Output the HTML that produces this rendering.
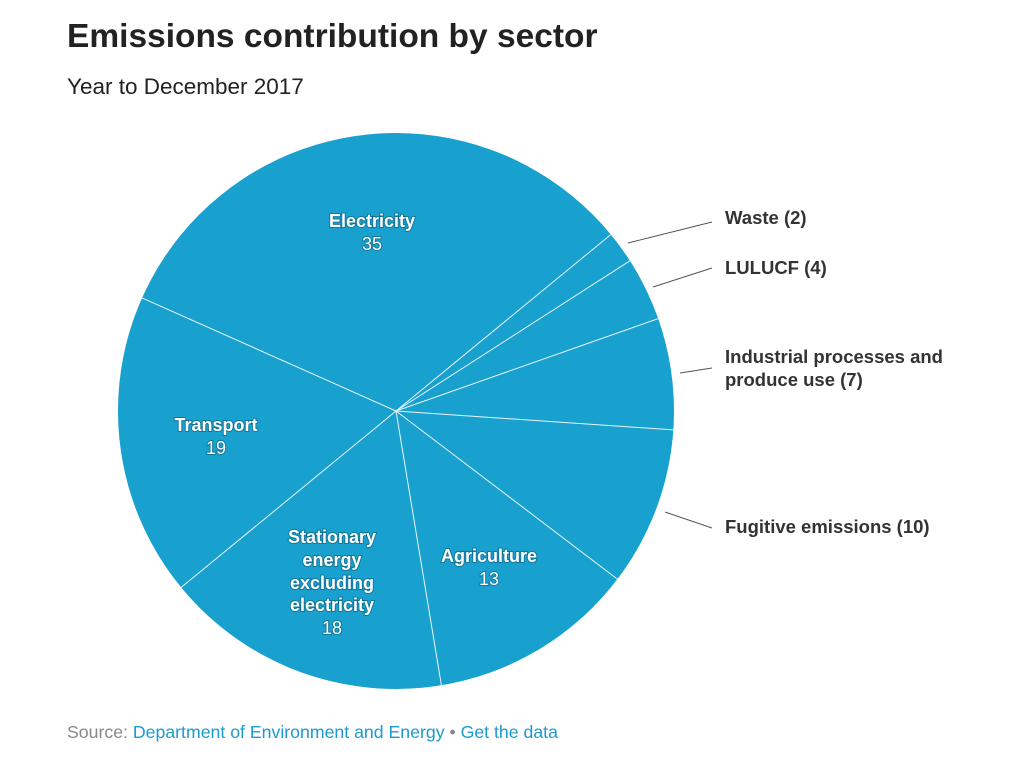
<!DOCTYPE html>
<html><head><meta charset="utf-8"><style>
html,body{margin:0;padding:0;background:#fff;}
body{width:1024px;height:760px;overflow:hidden;font-family:"Liberation Sans",sans-serif;}
</style></head><body>
<svg width="1024" height="760" viewBox="0 0 1024 760" xmlns="http://www.w3.org/2000/svg" font-family="Liberation Sans, sans-serif">
<text x="67" y="47" font-size="33.5" font-weight="bold" fill="#222">Emissions contribution by sector</text>
<text x="67" y="94" font-size="22.5" fill="#222">Year to December 2017</text>
<circle cx="396" cy="411" r="278" fill="#18a0cf"/>
<g stroke="#fff" stroke-width="1" opacity="0.9">
<line x1="396" y1="411" x2="142" y2="297.9"/>
<line x1="396" y1="411" x2="610.8" y2="234.6"/>
<line x1="396" y1="411" x2="629.9" y2="260.8"/>
<line x1="396" y1="411" x2="658.2" y2="318.6"/>
<line x1="396" y1="411" x2="673.4" y2="429.9"/>
<line x1="396" y1="411" x2="617.4" y2="579.1"/>
<line x1="396" y1="411" x2="441.4" y2="685.3"/>
<line x1="396" y1="411" x2="181.2" y2="587.4"/>
</g>
<g stroke="#555" stroke-width="1">
<line x1="628" y1="243" x2="712" y2="222"/>
<line x1="653" y1="287" x2="712" y2="268"/>
<line x1="680" y1="373" x2="712" y2="368"/>
<line x1="665" y1="512" x2="712" y2="528"/>
</g>
<g font-size="18.5" font-weight="bold" fill="#333">
<text x="725" y="224">Waste (2)</text>
<text x="725" y="274">LULUCF (4)</text>
<text x="725" y="363">Industrial processes and</text>
<text x="725" y="386">produce use (7)</text>
<text x="725" y="533">Fugitive emissions (10)</text>
</g>
<g font-size="18" fill="#fff" text-anchor="middle" style="paint-order:stroke" stroke="rgba(0,0,0,0.25)" stroke-width="2">
<text x="372" y="227" font-weight="bold">Electricity</text>
<text x="372" y="250">35</text>
<text x="216" y="431" font-weight="bold">Transport</text>
<text x="216" y="454">19</text>
<text x="332" y="543" font-weight="bold">Stationary</text>
<text x="332" y="566" font-weight="bold">energy</text>
<text x="332" y="589" font-weight="bold">excluding</text>
<text x="332" y="611" font-weight="bold">electricity</text>
<text x="332" y="634">18</text>
<text x="489" y="562" font-weight="bold">Agriculture</text>
<text x="489" y="585">13</text>
</g>
<text x="67" y="738" font-size="17.7" fill="#888">Source: <tspan fill="#1a9bd0">Department of Environment and Energy</tspan> • <tspan fill="#1a9bd0">Get the data</tspan></text>
</svg>
</body></html>
